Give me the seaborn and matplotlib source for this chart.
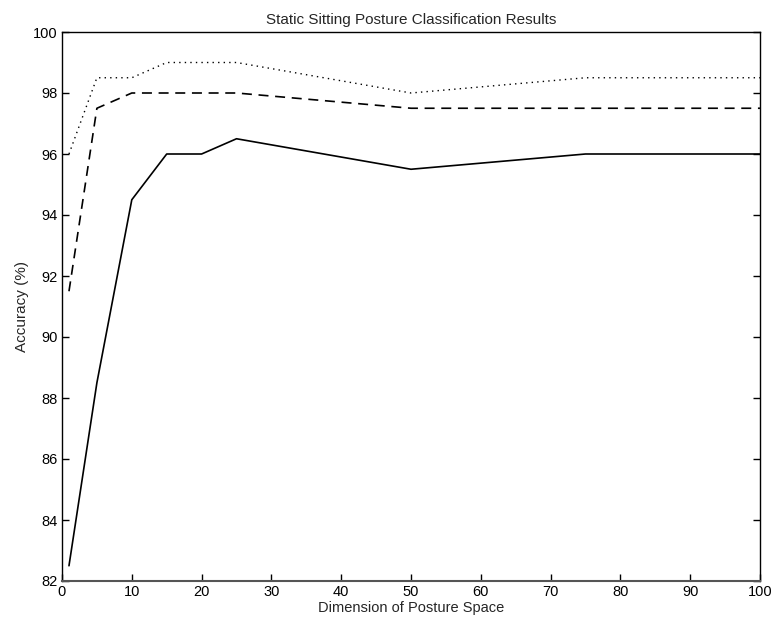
import matplotlib
matplotlib.use("Agg")
import matplotlib.pyplot as plt
import seaborn as sns
import pandas as pd

# Data
solid_x = [1, 5, 10, 15, 20, 25, 50, 75, 100]
solid_y = [82.5, 88.5, 94.5, 96.0, 96.0, 96.5, 95.5, 96.0, 96.0]

dashed_x = [1, 5, 10, 15, 20, 25, 50, 75, 100]
dashed_y = [91.5, 97.5, 98.0, 98.0, 98.0, 98.0, 97.5, 97.5, 97.5]

dotted_x = [1, 5, 10, 15, 20, 25, 50, 75, 100]
dotted_y = [96.0, 98.5, 98.5, 99.0, 99.0, 99.0, 98.0, 98.5, 98.5]

x_ticks = list(range(0, 101, 10))
y_ticks = list(range(82, 101, 2))

sns.set_style("white")
plt.rcParams['font.family'] = ['Liberation Sans', 'DejaVu Sans']

fig = plt.figure(figsize=(7.73, 6.27), dpi=100)
ax = fig.add_axes([62/773, 1-581/627, (760-62)/773, (581-32)/627])

sns.lineplot(x=solid_x, y=solid_y, ax=ax, color='black', linewidth=1.2, linestyle='-')
sns.lineplot(x=dashed_x, y=dashed_y, ax=ax, color='black', linewidth=1.2, linestyle=(0, (6, 4)))
sns.lineplot(x=dotted_x, y=dotted_y, ax=ax, color='black', linewidth=1.0, linestyle=(0, (1, 3)))

ax.set_xlim(0, 100)
ax.set_ylim(82, 100)
ax.set_xticks(x_ticks)
ax.set_yticks(y_ticks)
ax.tick_params(axis='both', direction='in', length=5, width=1, colors='black',
               labelsize=10.5, pad=3)
ax.tick_params(axis='y', right=True, left=True)
ax.tick_params(axis='x', bottom=True, top=False)

for side in ['left', 'right', 'top']:
    ax.spines[side].set_color('black')
    ax.spines[side].set_linewidth(1.0)
ax.spines['bottom'].set_color('#555555')
ax.spines['bottom'].set_linewidth(1.5)

ax.set_xlabel('Dimension of Posture Space', fontsize=10.5, labelpad=1)
ax.set_ylabel('Accuracy (%)', fontsize=11, labelpad=3)
ax.set_title('Static Sitting Posture Classification Results', fontsize=11, pad=6)

fig.savefig('out.png', dpi=100, facecolor='white')
